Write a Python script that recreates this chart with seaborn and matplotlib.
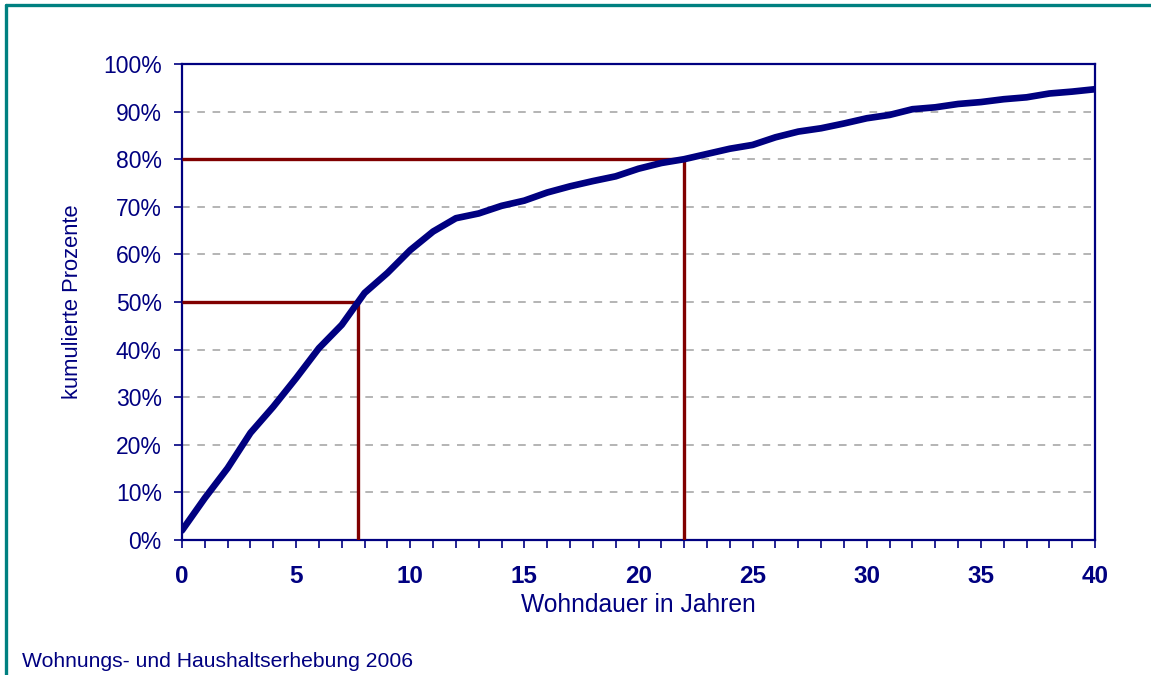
import matplotlib
matplotlib.use('Agg')
import matplotlib.pyplot as plt
from matplotlib.lines import Line2D
from matplotlib.ticker import PercentFormatter
import pandas as pd
import seaborn as sns

# Wohndauer (Jahre) und kumulierte Anteile
years = list(range(0, 41))
cum_share = [2.0, 8.8, 15.1, 22.5, 28.0, 34.0, 40.3, 45.2, 51.9, 56.1,
             60.9, 64.8, 67.6, 68.6, 70.2, 71.3, 73.0, 74.3, 75.4, 76.4,
             78.0, 79.2, 80.0, 81.1, 82.2, 83.0, 84.6, 85.8, 86.5, 87.5,
             88.6, 89.3, 90.5, 90.9, 91.6, 92.0, 92.6, 93.0, 93.8, 94.2, 94.7]

# Hilfslinien: 50 % nach 7,7 Jahren, 80 % nach 22 Jahren
ref_years = [7.7, 22.0]
ref_levels = [50.0, 80.0]

y_ticks = list(range(0, 101, 10))
x_labels = [str(y) if y % 5 == 0 else '' for y in years]

navy = '#000080'
darkred = '#800000'

sns.set_style('white')
plt.rcParams['font.family'] = ['Liberation Sans', 'DejaVu Sans']

df = pd.DataFrame({'Wohndauer': years, 'Anteil': cum_share})

fig = plt.figure(figsize=(11.51, 6.75), dpi=100)
ax = fig.add_axes([0.1581, 0.2, 0.7933, 0.7052])

for yr, lev in zip(ref_years, ref_levels):
    ax.hlines(lev, 0, yr, color=darkred, lw=2.4, zorder=3)
    ax.vlines(yr, 0, lev, color=darkred, lw=2.4, zorder=3)

sns.lineplot(data=df, x='Wohndauer', y='Anteil', ax=ax, color=navy,
             lw=4.8, zorder=4, solid_capstyle='round')

ax.set_xlim(0, 40)
ax.set_ylim(0, 100)
ax.set_xticks(years)
ax.set_xticklabels(x_labels, fontsize=17.5, fontweight='bold', color=navy)
ax.set_yticks(y_ticks)
ax.yaxis.set_major_formatter(PercentFormatter(decimals=0))
ax.tick_params(axis='y', direction='out', length=6, width=1.2, color=navy,
               labelcolor=navy, labelsize=16.5, pad=8.5, left=True)
ax.tick_params(axis='x', direction='out', length=6, width=1.2, color=navy,
               pad=12, bottom=True)

ax.yaxis.grid(True, color='#a0a0a0', lw=1.1, linestyle=(0, (5, 5)))
ax.xaxis.grid(False)
for s in ax.spines.values():
    s.set_color(navy)
    s.set_linewidth(1.6)
    s.set_visible(True)

ax.set_xlabel('Wohndauer in Jahren', fontsize=17.7, color=navy)
ax.set_ylabel('kumulierte Prozente', fontsize=15.8, color=navy)
ax.xaxis.set_label_coords(0.5, -0.112)
ax.yaxis.set_label_coords(-0.108, 0.5)

# Rahmen oben/links
fig.add_artist(Line2D([0.0048, 1.0], [0.9919, 0.9919], color='#008080', lw=2.4,
                      transform=fig.transFigure))
fig.add_artist(Line2D([0.0048, 0.0048], [0.0, 0.9919], color='#008080', lw=2.4,
                      transform=fig.transFigure))

fig.text(0.0191, 0.0119, 'Wohnungs- und Haushaltserhebung 2006', fontsize=15.2,
         color=navy, va='baseline', ha='left')

fig.savefig('out.png', dpi=100)
